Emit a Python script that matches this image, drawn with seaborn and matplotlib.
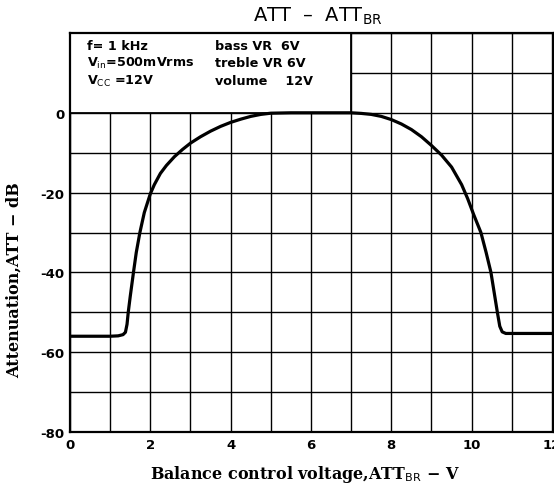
import numpy as np
import pandas as pd
import matplotlib
matplotlib.use("Agg")
import matplotlib.pyplot as plt
import seaborn as sns
from matplotlib.patches import Rectangle

# curve
voltage = [0.0, 0.5, 1.0, 1.2, 1.32, 1.38, 1.42, 1.45, 1.5, 1.58, 1.65, 1.74, 1.85,
           2.0, 2.1, 2.25, 2.4, 2.6, 2.8, 3.0, 3.25, 3.5, 3.75, 4.0, 4.25, 4.5,
           4.75, 5.0, 5.5, 6.0, 6.5, 7.0, 7.25, 7.5, 7.75, 8.0, 8.25, 8.5, 8.75,
           9.0, 9.25, 9.5, 9.75, 9.9, 10.05, 10.23, 10.36, 10.48, 10.56, 10.64,
           10.7, 10.76, 10.85, 11.0, 11.5, 12.0]
attenuation = [-56.0, -56.0, -56.0, -55.9, -55.6, -55.0, -53.0, -50.0, -46.0, -40.0,
               -35.0, -30.0, -25.0, -20.3, -18.0, -15.2, -13.2, -11.0, -9.2, -7.6,
               -6.0, -4.6, -3.4, -2.4, -1.6, -0.9, -0.4, -0.1, 0.0, 0.0, 0.0, 0.0,
               -0.15, -0.4, -0.9, -1.7, -2.8, -4.2, -6.0, -8.2, -10.6, -13.6,
               -18.0, -21.5, -25.5, -30.0, -35.0, -40.0, -45.0, -50.0, -53.5,
               -54.9, -55.3, -55.3, -55.3, -55.3]

x_labels = ["0", "2", "4", "6", "8", "10", "12"]
y_labels = ["0", "-20", "-40", "-60", "-80"]

df = pd.DataFrame({"V": voltage, "ATT": attenuation})

sns.set_theme(style="white", rc={"text.color": "black", "xtick.color": "black",
                                 "ytick.color": "black", "axes.labelcolor": "black"})
plt.rcParams["font.family"] = ["DejaVu Sans"]

fig = plt.figure(figsize=(5.54, 4.89), dpi=100)
ax = fig.add_axes([70 / 554, 56 / 489, 484 / 554, 399 / 489])

sns.lineplot(data=df, x="V", y="ATT", color="black", linewidth=2.3, ax=ax, zorder=3)

ax.set_xlim(0, 12.05)
ax.set_ylim(-80, 20)

ax.set_xticks(np.arange(0, 13, 2))
ax.set_xticklabels(x_labels)
ax.set_xticks(np.arange(0, 13, 1), minor=True)
ax.set_yticks([0, -20, -40, -60, -80])
ax.set_yticklabels(y_labels)
ax.set_yticks(np.arange(-80, 21, 10), minor=True)

ax.grid(True, which="both", color="black", linewidth=1.0)
ax.set_axisbelow(True)
for s in ax.spines.values():
    s.set_color("black")
    s.set_linewidth(1.6)
ax.tick_params(which="both", direction="out", length=3, width=1, color="black",
               labelsize=9.5, pad=1)
for lab in ax.get_xticklabels() + ax.get_yticklabels():
    lab.set_fontweight("bold")

# conditions box in the upper left
ax.add_patch(Rectangle((0, 0), 7, 20, facecolor="white", edgecolor="black",
                       linewidth=1.3, zorder=2))
left_col = ["f= 1 kHz", "V$_{\\rm in}$=500mVrms", "V$_{\\rm CC}$ =12V"]
right_col = ["bass VR  6V", "treble VR 6V", "volume    12V"]
for i, (a, b) in enumerate(zip(left_col, right_col)):
    yy = 16.8 - i * 4.3
    ax.text(0.42, yy, a, fontsize=9.2, fontweight="bold", va="center", zorder=4)
    ax.text(3.62, yy, b, fontsize=9.2, fontweight="bold", va="center", zorder=4)

ax.set_xlabel("")
ax.set_ylabel("")
fig.text(318 / 554, 1 - 16 / 489, "ATT  –  ATT$_{\\rm BR}$", fontsize=14,
         ha="center", va="center")
fig.text(305 / 554, 1 - 475 / 489, "Balance control voltage,ATT$_{\\rm BR}$ − V",
         family="DejaVu Serif", fontweight="bold", fontsize=11.5, ha="center",
         va="center")
fig.text(14 / 554, 1 - 280 / 489, "Attenuation,ATT − dB", family="DejaVu Serif",
         fontweight="bold", fontsize=11.5, ha="center", va="center", rotation=90)

fig.savefig("out.png", dpi=100, facecolor="white")
